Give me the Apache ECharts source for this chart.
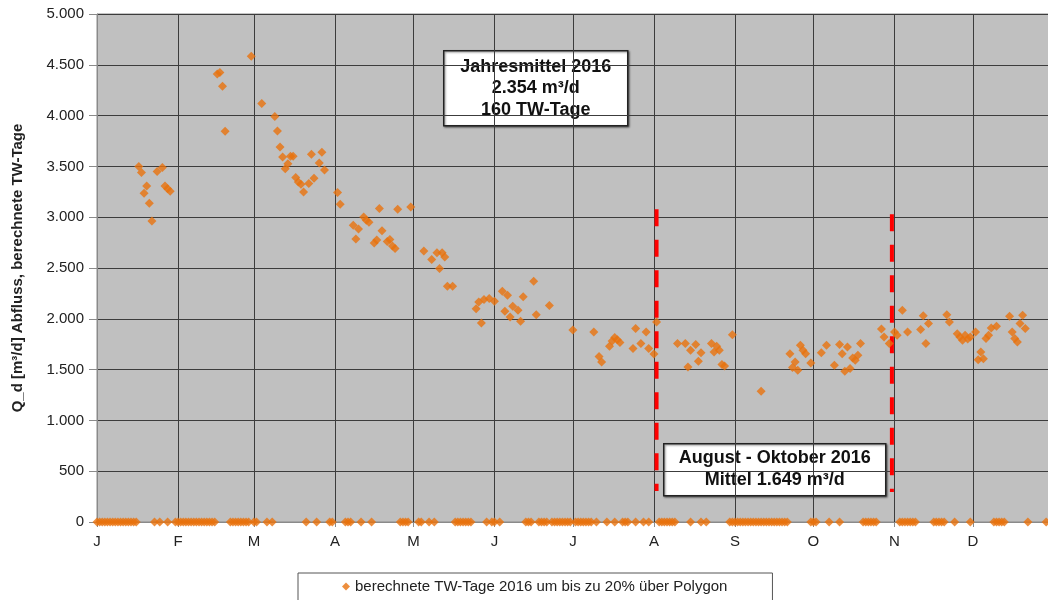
<!DOCTYPE html>
<html>
<head>
<meta charset="utf-8">
<script src="https://cdn.jsdelivr.net/npm/echarts@6/dist/echarts.min.js"></script>
<style>
html,body{margin:0;padding:0;background:#fff;}
#chart{width:1048px;height:600px;}
</style>
</head>
<body>
<div id="chart"></div>
<script>
// ---- data (day = days after 1 Jan 2016) ----
const seriesName = 'berechnete TW-Tage 2016 um bis zu 20% über Polygon';
const monthLetters = ['J','F','M','A','M','J','J','A','S','O','N','D'];

const twDay = [
  16,17,18,19,20,21,23,25,26,27,28,
  46,47,48,49,
  59,63,68,69,70,71,72,73,74,75,76,77,78,79,81,82,83,85,86,87,
  92,93,98,99,100,102,103,104,106,107,108,109,111,112,113,114,115,120,
  125,128,130,131,132,133,134,136,
  145,146,147,148,150,152,155,156,157,158,159,161,162,163,167,168,173,
  182,190,192,193,196,197,198,199,200,205,206,208,210,211,213,214,
  222,225,226,227,229,230,231,235,236,237,238,239,240,243,
  254,265,266,267,268,269,270,271,273,
  277,279,282,284,285,286,287,288,289,290,291,292,
  300,301,303,305,306,308,310,315,316,317,318,325,326,329,330,331,332,333,334,
  336,337,338,339,340,341,342,344,349,350,351,352,353,354,355
];
const twValue = [
  3500,3440,3235,3307,3137,2963,3450,3488,3307,3281,3255,
  4410,4425,4290,3845,
  4584,4118,3990,3848,3691,3593,3478,3527,3600,3600,3390,3347,3324,3248,3331,3619,3383,3533,3639,3465,
  3242,3127,2920,2785,2885,3002,2970,2950,2745,2775,3085,2866,2760,2780,2717,2691,3078,3100,
  2667,2583,2651,2494,2651,2608,2320,2320,
  2100,2165,1959,2189,2199,2172,2271,2074,2231,2018,2123,2083,1975,2218,2369,2041,2130,
  1890,1870,1628,1575,1729,1781,1815,1795,1766,1707,1904,1756,1870,1707,1654,1969,
  1756,1756,1526,1690,1746,1582,1667,1756,1673,1729,1690,1549,1535,1844,
  1286,1657,1520,1575,1493,1739,1690,1657,1565,
  1667,1739,1542,1746,1657,1483,1722,1510,1614,1592,1641,1756,
  1900,1821,1756,1870,1838,2084,1870,1894,2030,1756,1953,2040,1969,1854,1821,1788,1838,1800,1821,
  1870,1598,1673,1608,1805,1838,1910,1926,2025,1870,1805,1772,1953,2034,1904
];
const zeroDay = [
  0,1,2,3,4,5,6,7,8,9,10,11,12,13,14,15,
  22,24,27,
  30,31,32,33,34,35,36,37,38,39,40,41,42,43,44,45,
  51,52,53,54,55,56,57,58,
  60,61,65,67,
  80,84,89,90,95,96,97,101,105,
  116,117,118,119,123,124,127,129,
  137,138,139,140,141,142,143,
  149,151,152,154,
  164,165,166,169,170,171,172,174,175,176,177,178,179,180,181,183,184,185,186,187,188,189,
  191,195,198,201,202,203,206,209,211,
  215,216,217,218,219,220,221,227,231,233,
  242,243,244,245,246,247,248,249,250,251,252,253,254,255,256,257,258,259,260,261,262,263,264,
  273,274,275,280,284,
  293,294,295,296,297,298,
  307,308,309,310,311,312,313,
  320,321,322,323,324,328,334,
  343,344,345,346,347,356,363
];

// dashed period markers (Aug - Oct)
const markerDay = [214, 304];
const markerTop = [3078, 3029];
const markerBottom = [305, 295];

const annualText = ['Jahresmittel 2016', '2.354 m³/d', '160 TW-Tage'];
const periodText = ['August - Oktober 2016', 'Mittel 1.649 m³/d'];

const yMin = 0, yMax = 5000, yStep = 500;

// ---- build ----
function dayToTime(d){ return new Date(2016, 0, 1 + d).getTime(); }
function fmtDE(v){ return String(v).replace(/\B(?=(\d{3})+(?!\d))/g, '.'); }

const scatterData = twDay.map((d,i)=>[dayToTime(d), twValue[i]])
  .concat(zeroDay.map(d=>[dayToTime(d), 0]));

const FONT = '"Liberation Sans", Arial, sans-serif';
const ORANGE = '#e8720c';

const markerSeries = markerDay.map((d,i)=>({
  type:'line', name:'marker'+i, z:1, silent:true,
  symbol:'none', animation:false,
  data:[[dayToTime(d), markerTop[i]],[dayToTime(d), markerBottom[i]]],
  lineStyle:{color:'#ff0000', width:4, type:[17,13.5], cap:'butt'}
}));

const chart = echarts.init(document.getElementById('chart'), null, {renderer:'canvas'});
chart.setOption({
  animation:false,
  textStyle:{fontFamily:FONT},
  grid:{left:97, top:14, width:957, bottom:78, outerBoundsMode:'none', containLabel:false,
        show:true, backgroundColor:'#c0c0c0', borderColor:'#8a8a8a', borderWidth:1},
  xAxis:{
    type:'time',
    min:dayToTime(0), max:dayToTime(366),
    splitNumber:12,
    minInterval:28*86400000,
    maxInterval:31*86400000,
    axisLine:{show:true, lineStyle:{color:'#8a8a8a', width:1}},
    axisTick:{show:true, length:5, lineStyle:{color:'#8a8a8a'}},
    axisLabel:{
      color:'#222', fontSize:15, fontFamily:FONT, margin:12,
      showMaxLabel:false, hideOverlap:false,
      formatter:function(v){ return monthLetters[new Date(v).getMonth()]; }
    },
    splitLine:{show:true, lineStyle:{color:'#3c3c3c', width:1}}
  },
  yAxis:{
    type:'value', min:yMin, max:yMax, interval:yStep,
    name:'Q_d [m³/d] Abfluss, berechnete TW-Tage',
    nameLocation:'middle', nameGap:72,
    nameTextStyle:{fontWeight:'bold', fontSize:15, color:'#222', fontFamily:FONT},
    axisLine:{show:true, lineStyle:{color:'#8a8a8a', width:1}},
    axisTick:{show:true, length:8, lineStyle:{color:'#8a8a8a'}},
    axisLabel:{color:'#222', fontSize:15, fontFamily:FONT, margin:13, formatter:fmtDE},
    splitLine:{show:true, lineStyle:{color:'#3c3c3c', width:1}}
  },
  legend:{
    data:[seriesName],
    left:298, top:573,
    padding:[5,45,12,44],
    itemWidth:8, itemHeight:8, itemGap:5,
    icon:'diamond',
    borderColor:'#555', borderWidth:1, backgroundColor:'#fff',
    textStyle:{fontSize:15, color:'#222', fontFamily:FONT, lineHeight:17}
  },
  series:[
    ...markerSeries,
    {
      type:'scatter', name:seriesName, z:3,
      symbol:'diamond', symbolSize:9,
      itemStyle:{color:ORANGE},
      data:scatterData
    }
  ],
  graphic:[
    {
      type:'group', left:443, top:50,
      children:[
        {type:'rect', shape:{x:0,y:0,width:184,height:75},
         style:{fill:'#fff', stroke:'#222', lineWidth:1.5, shadowBlur:2, shadowOffsetX:1, shadowOffsetY:1, shadowColor:'rgba(0,0,0,0.45)'}},
        {type:'text', style:{text:annualText.join('\n'), x:92, y:37.5, textAlign:'center', textVerticalAlign:'middle',
          font:'bold 18px '+FONT, lineHeight:21.7, fill:'#111'}}
      ]
    },
    {
      type:'group', left:663, top:443,
      children:[
        {type:'rect', shape:{x:0,y:0,width:222,height:52},
         style:{fill:'#fff', stroke:'#222', lineWidth:1.5, shadowBlur:2, shadowOffsetX:1, shadowOffsetY:1, shadowColor:'rgba(0,0,0,0.45)'}},
        {type:'text', style:{text:periodText.join('\n'), x:111, y:25, textAlign:'center', textVerticalAlign:'middle',
          font:'bold 18px '+FONT, lineHeight:21.7, fill:'#111'}}
      ]
    }
  ]
});
</script>
</body>
</html>
